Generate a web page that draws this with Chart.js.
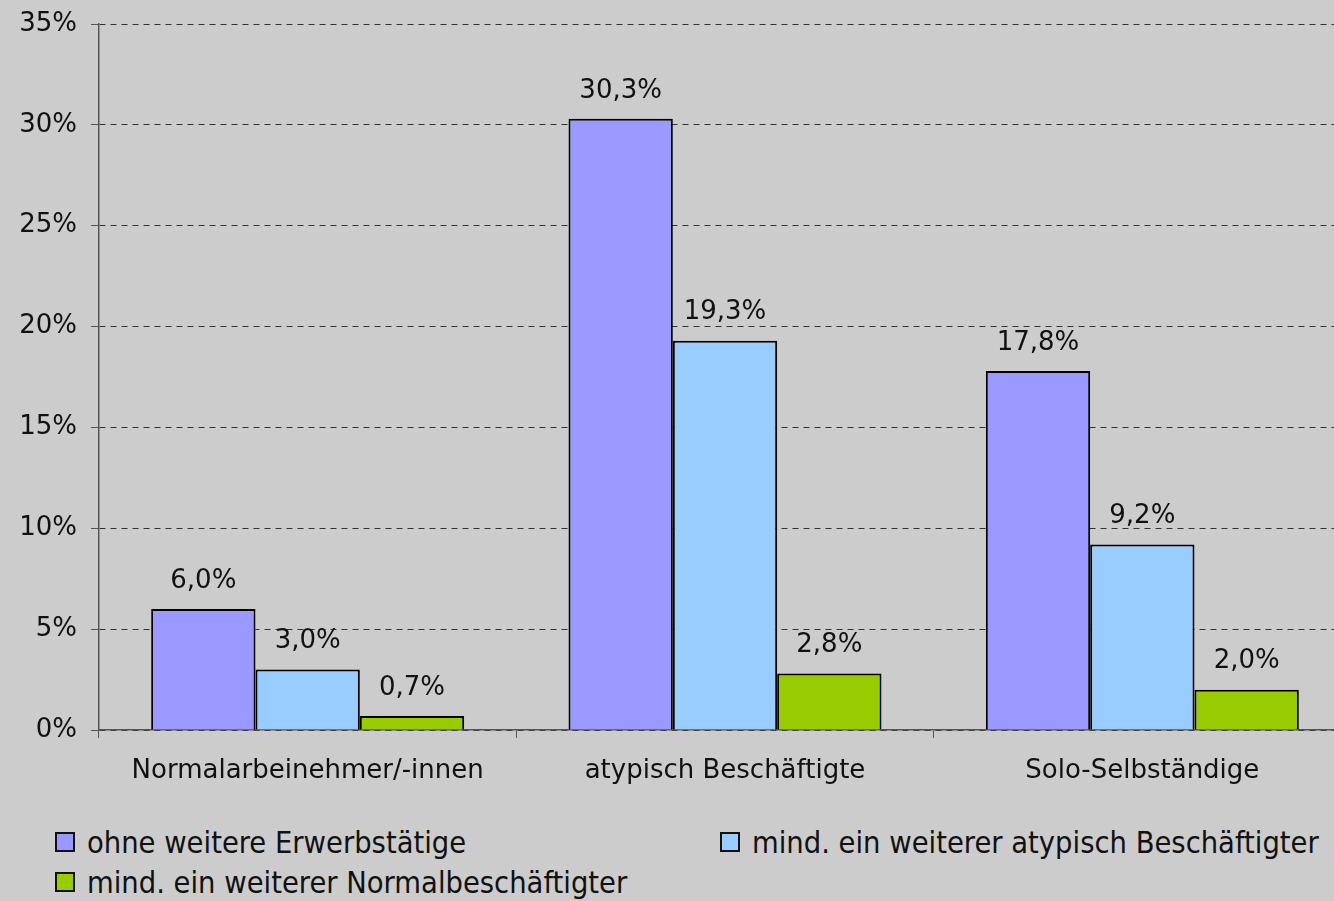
<!DOCTYPE html>
<html lang="de">
<head>
<meta charset="utf-8">
<script src="https://cdn.jsdelivr.net/npm/chart.js@4/dist/chart.umd.min.js"></script>
<style>
  html, body { margin: 0; padding: 0; background: #cccccc; overflow: hidden; }
  body { width: 1334px; height: 901px; position: relative; }
  #wrap { position: absolute; left: 0; top: 0; width: 1351px; height: 800px; }
  .legend-item {
    position: absolute; height: 20px; display: flex; align-items: center;
    font-family: "DejaVu Sans", sans-serif; font-stretch: condensed;
    font-size: 30.5px; color: #111; white-space: nowrap;
  }
  .legend-box {
    box-sizing: border-box; width: 20px; height: 20px;
    border: 2px solid #111; margin-right: 12px;
  }
</style>
</head>
<body>
<div id="wrap"><canvas id="chart"></canvas></div>
<div id="legend"></div>
<script>
const categories = ["Normalarbeinehmer/-innen", "atypisch Beschäftigte", "Solo-Selbständige"];
const seriesLabels = [
  "ohne weitere Erwerbstätige",
  "mind. ein weiterer atypisch Beschäftigter",
  "mind. ein weiterer Normalbeschäftigter",
];
const ohneWeitere = [6.0, 30.3, 17.8];
const weitererAtypisch = [3.0, 19.3, 9.2];
const weitererNormal = [0.7, 2.8, 2.0];
const yTicks = [0, 5, 10, 15, 20, 25, 30, 35];
const colors = ["#9999ff", "#99ccff", "#99cc00"];

const fmt = (v) => v.toFixed(1).replace(".", ",") + "%";

const legendPos = [
  { left: 55, top: 832 },
  { left: 720, top: 832 },
  { left: 55, top: 872 },
];
document.getElementById("legend").innerHTML = seriesLabels
  .map(
    (label, i) => `
      <div class="legend-item" style="left:${legendPos[i].left}px;top:${legendPos[i].top}px">
        <span class="legend-box" style="background:${colors[i]}"></span>${label}
      </div>`,
  )
  .join("");

const valueLabels = {
  id: "valueLabels",
  afterDatasetsDraw(chart) {
    const { ctx } = chart;
    ctx.save();
    ctx.font = '26px "DejaVu Sans", sans-serif';
    ctx.fillStyle = "#111";
    ctx.textAlign = "center";
    ctx.textBaseline = "middle";
    chart.data.datasets.forEach((ds, i) => {
      chart.getDatasetMeta(i).data.forEach((bar, j) => {
        ctx.fillText(fmt(ds.data[j]), bar.x, bar.y - 28);
      });
    });
    ctx.restore();
  },
};

new Chart(document.getElementById("chart"), {
  type: "bar",
  data: {
    labels: categories,
    datasets: [ohneWeitere, weitererAtypisch, weitererNormal].map((data, i) => ({
      label: seriesLabels[i],
      data,
      backgroundColor: colors[i],
      borderColor: "#000",
      borderWidth: 2,
      categoryPercentage: 0.75,
      barPercentage: 1,
    })),
  },
  options: {
    responsive: true,
    maintainAspectRatio: false,
    animation: false,
    layout: { padding: { top: 24, left: 0, right: 0, bottom: 0 } },
    plugins: { legend: { display: false }, tooltip: { enabled: false } },
    scales: {
      x: {
        grid: { drawOnChartArea: false, tickLength: 8, color: "#555", offset: true },
        border: { color: "#555", width: 1.5 },
        ticks: { color: "#111", padding: 18, font: { family: "DejaVu Sans", size: 26 } },
        afterFit: (s) => { s.height = 70; },
      },
      y: {
        min: 0,
        max: 35,
        afterBuildTicks: (s) => { s.ticks = yTicks.map((v) => ({ value: v })); },
        grid: { color: "#333", lineWidth: 1, tickLength: 8, tickColor: "#555" },
        border: { color: "#555", width: 1.5, dash: [6, 5] },
        ticks: {
          color: "#111",
          padding: 14,
          font: { family: "DejaVu Sans", size: 26 },
          callback: (v) => v + "%",
        },
        afterFit: (s) => {
          s.width = 99;
          s.paddingTop = 0;
          s.paddingBottom = 0;
        },
      },
    },
  },
  plugins: [valueLabels],
});
</script>
</body>
</html>
